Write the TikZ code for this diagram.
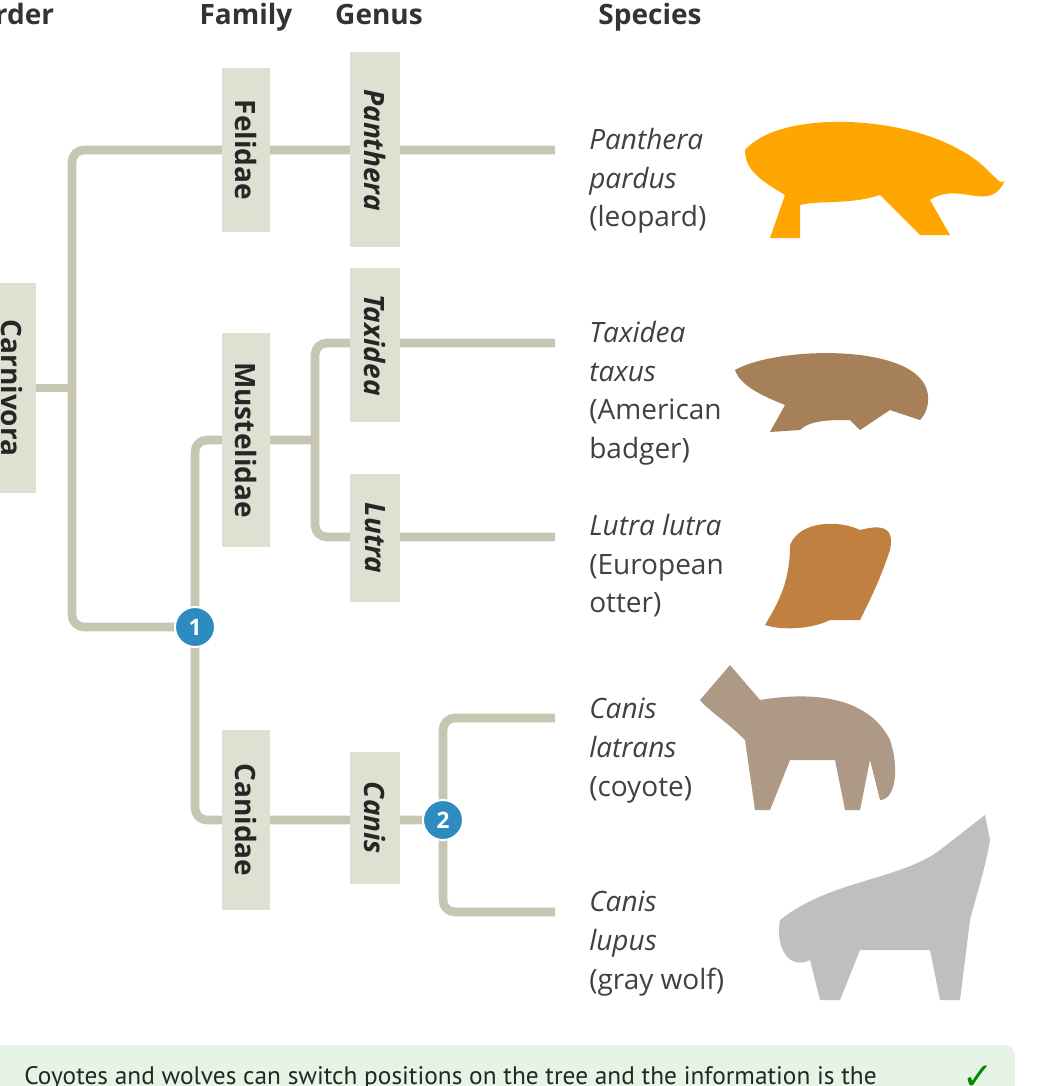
\documentclass[tikz,border=0pt]{standalone}
\usepackage{fontspec}
\setmainfont{Open Sans}
\newfontfamily\symf{DejaVu Sans}
\newfontfamily\condf{PT Sans}
\begin{document}
\begin{tikzpicture}[x=0.75pt,y=-0.75pt,
  br/.style={line width=6.5pt,draw=lineg,rounded corners=9pt},
  tlab/.style={rotate=-90,font=\bfseries\fontsize{21}{24}\selectfont,text=black!85},
  sp/.style={anchor=north west,align=left,font=\fontsize{21}{29}\selectfont,text=black!75,inner sep=0pt},
  hd/.style={anchor=base,font=\bfseries\fontsize{21}{24}\selectfont,text=black!80},
  badge/.style={circle,fill=badgeb,draw=white,line width=1.5pt,minimum size=30pt,inner sep=0pt,text=white,font=\bfseries\fontsize{17}{20}\selectfont}]
\definecolor{lineg}{HTML}{C6C6B2}
\definecolor{boxg}{HTML}{DFDFD2}
\definecolor{badgeb}{HTML}{2E8BC0}
\useasboundingbox (0,0) rectangle (1042,1086);
% headers
\node[hd,anchor=base west] (hO) at (-32,24) {Order};
\node[hd] (hF) at (246,24) {Family};
\node[hd] (hG) at (379,24) {Genus};
\node[hd] (hS) at (650,24) {Species};
% coordinates
\coordinate (r) at (36,388);
\coordinate (t1) at (555,150);
\coordinate (t2) at (555,343);
\coordinate (t3) at (555,537);
\coordinate (t4) at (555,718);
\coordinate (t5) at (555,912);
% branches
\draw[br] (r) -- (72,388);
\draw[br] (t1) -- (72,150) -- (72,627) -- (195,627);
\draw[br] (315,440) -- (195,440) -- (195,820) -- (443,820);
\draw[br] (t2) -- (315,343) -- (315,537) -- (t3);
\draw[br] (t4) -- (443,718) -- (443,912) -- (t5);
% boxes
\fill[boxg] (-10,283) rectangle (36,493);
\node[tlab] (carn) at (12,388) {Carnivora};
\fill[boxg] (222,68) rectangle (270,232);
\node[tlab] (fel) at (246,150) {Felidae};
\fill[boxg] (350,52) rectangle (400,247);
\node[tlab] (pan) at (375,150) {\itshape Panthera};
\fill[boxg] (222,333) rectangle (270,547);
\node[tlab] (mus) at (246,440) {Mustelidae};
\fill[boxg] (350,268) rectangle (400,422);
\node[tlab] (tax) at (375,345) {\itshape Taxidea};
\fill[boxg] (350,474) rectangle (400,602);
\node[tlab] (lut) at (375,538) {\itshape Lutra};
\fill[boxg] (222,730) rectangle (270,910);
\node[tlab] (can) at (246,820) {Canidae};
\fill[boxg] (350,752) rectangle (400,884);
\node[tlab] (cns) at (375,818) {\itshape Canis};
% badges
\node[badge] (b1) at (195,627) {1};
\node[badge] (b2) at (443,820) {2};
% species
\node[sp] (s1) at (589,128) {\itshape Panthera\\\itshape pardus\\(leopard)};
\node[sp] (s2) at (589,321) {\itshape Taxidea\\\itshape taxus\\(American\\badger)};
\node[sp] (s3) at (589,514) {\itshape Lutra lutra\\(European\\otter)};
\node[sp] (s4) at (589,698) {\itshape Canis\\\itshape latrans\\(coyote)};
\node[sp] (s5) at (589,891) {\itshape Canis\\\itshape lupus\\(gray wolf)};
% animals (stylised)
\fill[orange!70!yellow] (745,150) .. controls (780,110) and (900,115) .. (960,150) .. controls (990,165) and (1000,190) .. (1005,180) .. controls (990,215) and (960,180) .. (930,200) -- (950,235) -- (920,235) -- (880,195) .. controls (850,205) and (820,200) .. (800,205) -- (800,238) -- (770,238) -- (785,195) .. controls (760,180) and (745,170) .. (745,150) -- cycle;
\fill[brown!60!gray] (735,370) .. controls (770,350) and (870,345) .. (910,370) .. controls (935,385) and (930,410) .. (920,420) -- (890,410) -- (860,430) -- (850,420) .. controls (830,420) and (810,420) .. (800,430) -- (770,432) -- (785,405) .. controls (760,395) and (740,385) .. (735,370) -- cycle;
\fill[brown!55!orange!70!gray] (790,545) .. controls (800,520) and (840,520) .. (860,530) .. controls (880,525) and (895,525) .. (890,550) .. controls (880,580) and (870,600) .. (860,620) -- (830,620) .. controls (810,630) and (780,630) .. (765,625) .. controls (780,600) and (790,580) .. (790,545) -- cycle;
\fill[brown!40!gray!80] (700,700) -- (730,665) -- (760,700) .. controls (820,690) and (870,700) .. (890,740) .. controls (900,770) and (895,800) .. (880,800) -- (870,760) -- (860,810) -- (845,810) -- (835,760) -- (790,760) -- (770,810) -- (755,810) -- (745,740) .. controls (725,720) and (710,712) .. (700,700) -- cycle;
\fill[gray!50] (780,920) .. controls (830,880) and (900,880) .. (940,850) -- (985,815) -- (990,840) .. controls (985,870) and (975,900) .. (970,920) -- (960,1000) -- (940,1000) -- (930,950) -- (860,950) -- (840,1000) -- (820,1000) -- (810,960) .. controls (790,970) and (775,950) .. (780,920) -- cycle;
% answer box
\fill[green!40!gray!14] (0,1045) [rounded corners=8pt] -- (1015,1045) -- (1015,1100) [sharp corners] -- (0,1100) -- cycle;
\node[anchor=west,font=\condf\fontsize{19}{22}\selectfont,text=black!85,inner sep=0pt] (ans) at (24,1078) {Coyotes and wolves can switch positions on the tree and the information is the};
\node[font=\symf\fontsize{28}{30}\selectfont,text=green!55!black] (chk) at (978,1078) {✓};
\end{tikzpicture}
\end{document}
